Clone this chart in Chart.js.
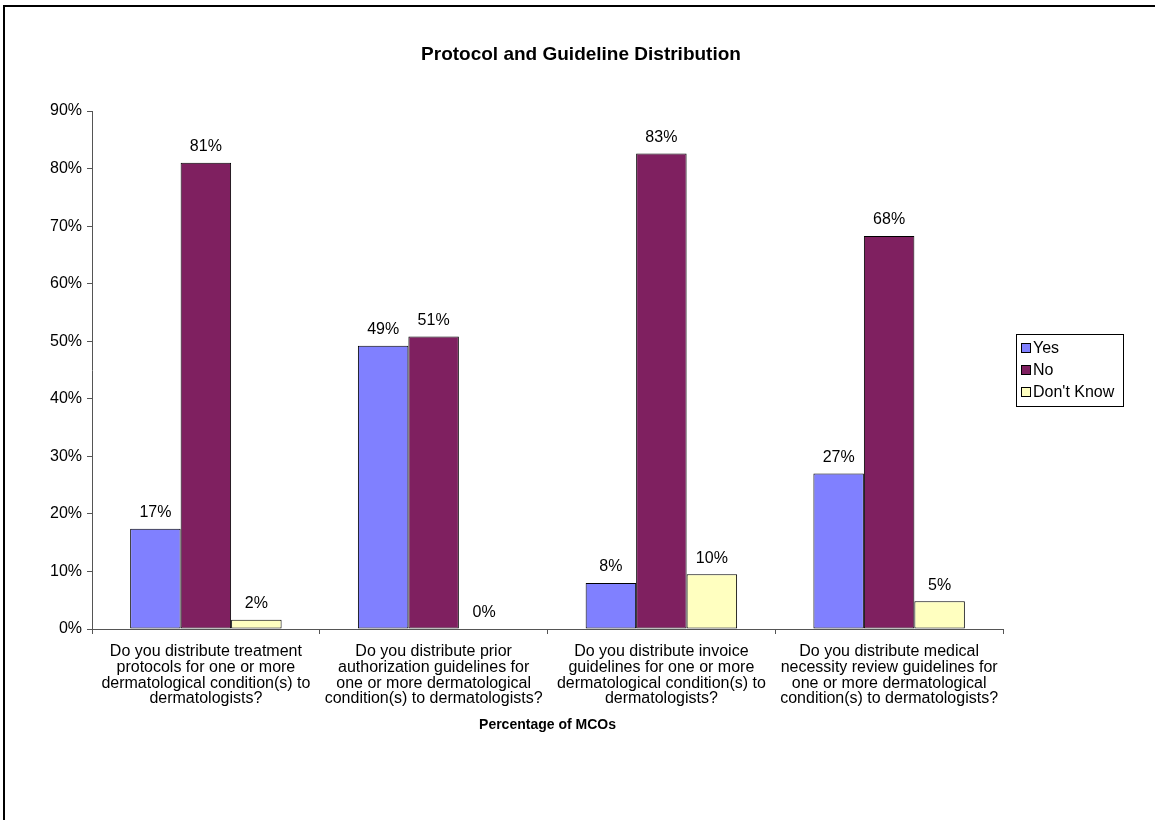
<!DOCTYPE html>
<html>
<head>
<meta charset="utf-8">
<script src="https://cdn.jsdelivr.net/npm/chart.js@4"></script>
<style>
  html, body { margin: 0; padding: 0; background: #fff; overflow: hidden; }
  #wrap { position: relative; width: 1155px; height: 820px; }
</style>
</head>
<body>
<div id="wrap"><canvas id="protocolChart" width="1155" height="820"></canvas></div>
<script>
// questions on the x axis, one line per array entry
var questions = [
	['Do you distribute treatment', 'protocols for one or more', 'dermatological condition(s) to', 'dermatologists?'],
	['Do you distribute prior', 'authorization guidelines for', 'one or more dermatological', 'condition(s) to dermatologists?'],
	['Do you distribute invoice', 'guidelines for one or more', 'dermatological condition(s) to', 'dermatologists?'],
	['Do you distribute medical', 'necessity review guidelines for', 'one or more dermatological', 'condition(s) to dermatologists?']
];

// percentage of MCOs per answer
var yesValues = [17.4, 49.2, 8.0, 27.0];
var noValues = [81.0, 50.8, 82.6, 68.3];
var dontKnowValues = [1.6, 0, 9.5, 4.8];

var seriesNames = ['Yes', 'No', "Don't Know"];
var seriesColors = ['#8080ff', '#7f2060', '#ffffc0'];

var yTicks = [0, 10, 20, 30, 40, 50, 60, 70, 80, 90];

var chartTitle = 'Protocol and Guideline Distribution';

var fontFamily = '"Liberation Sans", Arial, sans-serif';

// page frame, title, bar labels and the boxed legend
var extrasPlugin = {
	id: 'extras',
	beforeDraw: function(chart) {
		var ctx = chart.ctx;
		ctx.save();
		ctx.fillStyle = '#fff';
		ctx.fillRect(0, 0, chart.width, chart.height);
		ctx.fillStyle = '#000';
		ctx.fillRect(3, 5, chart.width, 2);
		ctx.fillRect(3, 5, 2, chart.height);

		ctx.font = 'bold 19px ' + fontFamily;
		ctx.textAlign = 'center';
		ctx.textBaseline = 'middle';
		ctx.fillText(chartTitle, 581, 55);
		ctx.restore();
	},
	afterDatasetsDraw: function(chart) {
		var ctx = chart.ctx;
		ctx.save();
		ctx.font = '16px ' + fontFamily;
		ctx.fillStyle = '#000';
		ctx.textAlign = 'center';
		ctx.textBaseline = 'bottom';
		chart.data.datasets.forEach(function(ds, i) {
			chart.getDatasetMeta(i).data.forEach(function(bar, j) {
				ctx.fillText(Math.round(ds.data[j]) + '%', bar.x, bar.y - 8);
			});
		});

		// legend
		var lx = 1016.5, ly = 334.5, lw = 107, lh = 72;
		ctx.strokeStyle = '#000';
		ctx.lineWidth = 1;
		ctx.strokeRect(lx, ly, lw, lh);
		ctx.textAlign = 'left';
		ctx.textBaseline = 'middle';
		chart.data.datasets.forEach(function(ds, i) {
			var cy = 348 + i * 22;
			ctx.fillStyle = ds.backgroundColor;
			ctx.fillRect(1021.5, cy - 4.5, 9, 9);
			ctx.strokeRect(1021.5, cy - 4.5, 9, 9);
			ctx.fillStyle = '#000';
			ctx.fillText(ds.label, 1033, cy + 1);
		});
		ctx.restore();
	}
};

var datasets = [yesValues, noValues, dontKnowValues].map(function(values, i) {
	return {
		label: seriesNames[i],
		data: values,
		backgroundColor: seriesColors[i],
		borderColor: '#000',
		borderWidth: 1,
		borderSkipped: false,
		categoryPercentage: 0.665,
		barPercentage: 1.0
	};
});

var config = {
	type: 'bar',
	data: {
		labels: questions,
		datasets: datasets
	},
	plugins: [extrasPlugin],
	options: {
		responsive: false,
		animation: false,
		layout: {
			padding: { left: 0, right: 152, top: 111, bottom: 0 }
		},
		plugins: {
			legend: { display: false },
			tooltip: { enabled: false },
			title: { display: false }
		},
		scales: {
			x: {
				offset: true,
				grid: {
					offset: true,
					drawOnChartArea: false,
					drawTicks: true,
					tickLength: 5,
					color: '#555'
				},
				border: { color: '#555', width: 1 },
				ticks: {
					color: '#000',
					padding: 10,
					maxRotation: 0,
					autoSkip: false,
					font: { family: fontFamily, size: 16, lineHeight: 0.98 }
				},
				title: {
					display: true,
					text: 'Percentage of MCOs',
					color: '#000',
					font: { family: fontFamily, size: 14, weight: 'bold', lineHeight: 1.2 },
					padding: { top: 4, bottom: 86 }
				},
				afterFit: function(scale) { scale.height = 191; }
			},
			y: {
				min: 0,
				max: 90,
				afterBuildTicks: function(scale) {
					scale.ticks = yTicks.map(function(v) { return { value: v }; });
				},
				grid: {
					drawOnChartArea: false,
					drawTicks: true,
					tickLength: 5,
					color: '#555'
				},
				border: { color: '#555', width: 1 },
				ticks: {
					color: '#000',
					padding: 5,
					font: { family: fontFamily, size: 16 },
					callback: function(v) { return v + '%'; }
				},
				afterFit: function(scale) { scale.width = 92; }
			}
		}
	}
};

var myChart = new Chart(document.getElementById('protocolChart'), config);
</script>
</body>
</html>
